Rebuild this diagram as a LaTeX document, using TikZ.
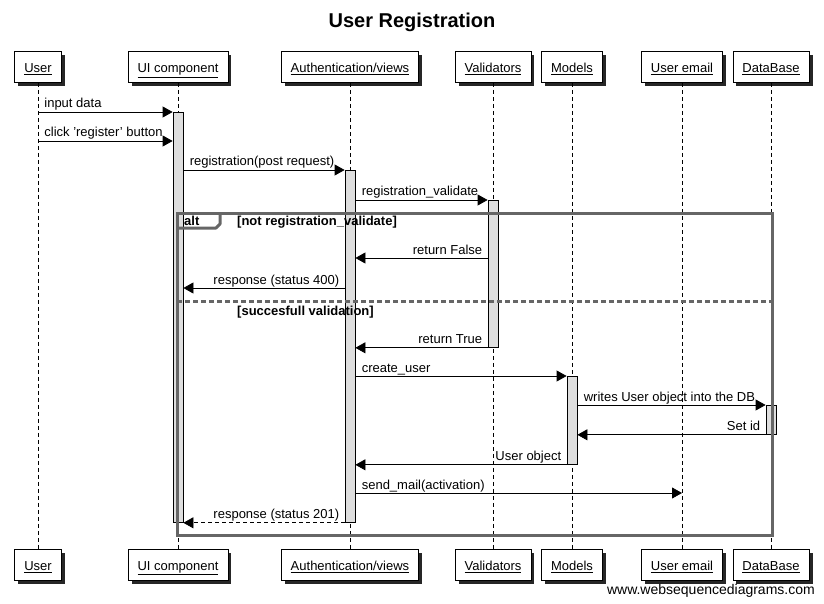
\documentclass[tikz,border=0pt]{standalone}
\usepackage{fontspec}
\setmainfont{Liberation Sans}
\usetikzlibrary{arrows.meta}
\usetikzlibrary{shadows}

\tikzset{
  actor/.style={draw, fill=white, line width=0.8pt, minimum height=31pt, inner xsep=9.5pt,
    text height=12pt, text depth=0.5pt,
    drop shadow={shadow xshift=3.5pt, shadow yshift=-3.5pt, fill=black!85, opacity=1}},
  lifeline/.style={line width=0.8pt, dash pattern=on 4pt off 3pt},
  act/.style={draw, fill=black!13, line width=0.8pt, minimum width=10pt, inner sep=0pt, anchor=north},
  msg/.style={line width=0.8pt, -{Triangle[length=10pt,width=11pt]}},
  reply/.style={msg, dash pattern=on 4pt off 3pt},
  lblR/.style={pos=0, anchor=base west, inner sep=0pt, xshift=6pt, yshift=4pt},
  lblL/.style={pos=0, anchor=base east, inner sep=0pt, xshift=-5pt, yshift=4pt},
  frame/.style={draw=black!60, line width=3pt},
  cond/.style={anchor=base west, inner sep=0pt, font=\fontsize{13}{15}\selectfont\bfseries},
}

\begin{document}
\begin{tikzpicture}[x=1pt, y=-1pt, font=\fontsize{13}{15}\selectfont]

\useasboundingbox (0,0) rectangle (824,604);

\node (title) at (412,22) {\fontsize{20}{24}\selectfont\bfseries User Registration};

% participants, top and bottom
\foreach \nm/\x/\txt in {user/38/User, ui/178/UI component, auth/350/{Authentication/views},
    valid/493/Validators, models/572/Models, email/682/User email, db/771/DataBase}{
  \node[actor] (\nm) at (\x,67) {\underline{\txt}};
  \node[actor] (\nm-f) at (\x,564.5) {\underline{\txt}};
  \draw[lifeline] (\nm.south) -- (\nm-f.north);
}

% activations
\node[act, minimum height=410pt] (aUI) at (178,112) {};
\node[act, minimum height=352pt] (aAuth) at (350,170) {};
\node[act, minimum height=147pt] (aVal) at (493,200) {};
\node[act, minimum height=88pt] (aMod) at (572,376) {};
\node[act, minimum height=29pt] (aDB) at (771,405) {};

% alt frame
\draw[frame] (177,213) rectangle (772,535);
\draw[frame, line join=round] (177,228) -- (216,228) -- (220,224) -- (220,213);
\draw[frame, dash pattern=on 5pt off 3pt] (177,301) -- (772,301);
\node[cond] (alt) at (184,225) {alt};
\node[cond] (c1) at (237,225) {[not registration\_validate]};
\node[cond] (c2) at (237,315) {[succesfull validation]};

\coordinate (yClick) at (0,141);
\coordinate (yFalse) at (0,258);
\coordinate (y400) at (0,288);
\coordinate (ySend) at (0,493);

% messages
\draw[msg] (user |- aUI.north) -- (aUI.north west) node[lblR] {input data};
\draw[msg] (user |- yClick) -- (aUI.west |- yClick) node[lblR] {click 'register' button};
\draw[msg] (aUI.east |- aAuth.north) -- (aAuth.north west) node[lblR] {registration(post request)};
\draw[msg] (aAuth.east |- aVal.north) -- (aVal.north west) node[lblR] {registration\_validate};
\draw[msg] (aVal.west |- yFalse) -- (aAuth.east |- yFalse) node[lblL] {return False};
\draw[msg] (aAuth.west |- y400) -- (aUI.east |- y400) node[lblL] {response (status 400)};
\draw[msg] (aVal.south west) -- (aAuth.east |- aVal.south) node[lblL] {return True};
\draw[msg] (aAuth.east |- aMod.north) -- (aMod.north west) node[lblR] {create\_user};
\draw[msg] (aMod.east |- aDB.north) -- (aDB.north west) node[lblR] {writes User object into the DB};
\draw[msg] (aDB.south west) -- (aMod.east |- aDB.south) node[lblL] {Set id};
\draw[msg] (aMod.south west) -- (aAuth.east |- aMod.south) node[lblL] {User object};
\draw[msg] (aAuth.east |- ySend) -- (email |- ySend) node[lblR] {send\_mail(activation)};
\draw[reply] (aAuth.south west) -- (aUI.south east) node[lblL] {response (status 201)};

\node[anchor=east, inner sep=0pt, font=\fontsize{14}{16}\selectfont] (wsd) at (815,591) {www.websequencediagrams.com};

\end{tikzpicture}
\end{document}
